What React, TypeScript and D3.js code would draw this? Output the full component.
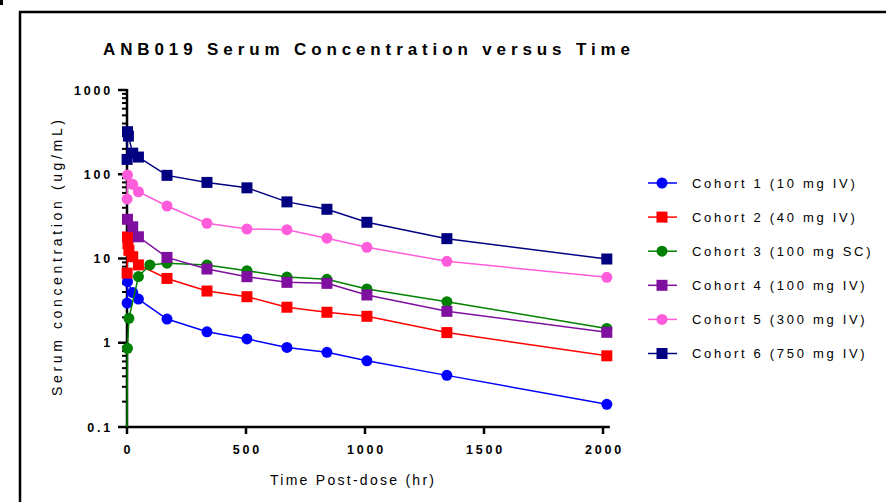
import React from "react";
import * as d3 from "d3";

const cohortNames = [
  "Cohort 1 (10 mg IV)",
  "Cohort 2 (40 mg IV)",
  "Cohort 3 (100 mg SC)",
  "Cohort 4 (100 mg IV)",
  "Cohort 5 (300 mg IV)",
  "Cohort 6 (750 mg IV)",
];
const cohortColors = ["#0000FF", "#FF0000", "#008000", "#7F0F9F", "#FF5CDB", "#000080"];
const cohortShapes = ["circle", "square", "circle", "square", "circle", "square"];

const c1Times = [0.5, 2, 24, 48, 168, 336, 504, 672, 840, 1008, 1344, 2016];
const c1Values = [2.96, 5.3, 3.95, 3.3, 1.91, 1.35, 1.11, 0.88, 0.77, 0.61, 0.41, 0.186];

const c2Times = [0.5, 2, 4, 8, 24, 48, 168, 336, 504, 672, 840, 1008, 1344, 2016];
const c2Values = [6.7, 18, 15, 12.5, 10.5, 8.4, 5.8, 4.11, 3.52, 2.64, 2.3, 2.06, 1.32, 0.7];

const c3Times = [0, 2, 8, 48, 96, 168, 336, 504, 672, 840, 1008, 1344, 2016];
const c3Values = [0.1, 0.86, 1.95, 6.1, 8.4, 8.8, 8.37, 7.17, 6.02, 5.66, 4.35, 3.07, 1.48];

const c4Times = [2, 24, 48, 168, 336, 504, 672, 840, 1008, 1344, 2016];
const c4Values = [29.2, 23.8, 18.1, 10.3, 7.5, 6.08, 5.21, 5.07, 3.69, 2.36, 1.33];

const c5Times = [0.5, 2, 24, 48, 168, 336, 504, 672, 840, 1008, 1344, 2016];
const c5Values = [50.8, 98, 76, 62, 42, 26.2, 22.4, 22.0, 17.4, 13.6, 9.27, 5.98];

const c6Times = [0.5, 2, 6, 24, 48, 168, 336, 504, 672, 840, 1008, 1344, 2016];
const c6Values = [150, 320, 284, 178, 160, 97, 80, 69, 47, 38.4, 26.9, 17.2, 9.86];

const xTicks = [0, 500, 1000, 1500, 2000];
const yMajorTicks = [0.1, 1, 10, 100, 1000];
const yTickLabels = ["0.1", "1", "10", "100", "1000"];

const titleText = "ANB019 Serum Concentration versus Time";
const xTitle = "Time Post-dose (hr)";
const yTitle = "Serum concentration (ug/mL)";

const allTimes = [c1Times, c2Times, c3Times, c4Times, c5Times, c6Times];
const allValues = [c1Values, c2Values, c3Values, c4Values, c5Values, c6Values];

const FONT = "'Liberation Sans', Arial, Helvetica, sans-serif";

export default function App() {
  const x = d3.scaleLinear().domain([0, 2000]).range([127, 603]);
  const y = d3.scaleLog().domain([0.1, 1000]).range([427, 90]).clamp(true);

  const series = cohortNames.map((name, i) => ({
    name,
    color: cohortColors[i],
    shape: cohortShapes[i],
    points: allTimes[i].map((t, j) => ({ t, v: allValues[i][j] })),
  }));

  const line = d3
    .line<{ t: number; v: number }>()
    .x((d) => x(d.t))
    .y((d) => y(d.v));

  const minorTicks: number[] = [];
  [0.1, 1, 10, 100].forEach((d) => {
    for (let k = 2; k <= 9; k++) minorTicks.push(d * k);
  });

  const marker = (shape: string, cx: number, cy: number, color: string, key: any) =>
    shape === "circle" ? (
      <circle key={key} cx={cx} cy={cy} r={5.5} fill={color} />
    ) : (
      <rect key={key} x={cx - 5.5} y={cy - 5.5} width={11} height={11} fill={color} />
    );

  const axisX0 = x(0);
  const legendY = (i: number) => 183 + i * 34.1;

  return (
    <svg
      width={886}
      height={502}
      style={{ position: "absolute", left: 0, top: 0, background: "#fff" }}
      fontFamily={FONT}
    >
      <rect x={0} y={0} width={886} height={502} fill="#fff" />
      <rect x={0} y={0} width={3} height={5} fill="#000" />
      <path d="M20,502 V12 H886" fill="none" stroke="#000" strokeWidth={2.5} />

      <text
        x={366.5}
        y={55}
        textAnchor="middle"
        fontWeight="bold"
        fontSize={17}
        textLength={527}
        lengthAdjust="spacing"
        fill="#000"
      >
        {titleText}
      </text>

      {/* Y axis */}
      <line x1={axisX0} x2={axisX0} y1={y(1000) - 1} y2={y(0.1) + 1} stroke="#000" strokeWidth={2.5} />
      {minorTicks.map((v, i) => (
        <line key={"mn" + i} x1={axisX0 - 5} x2={axisX0} y1={y(v)} y2={y(v)} stroke="#000" strokeWidth={2} />
      ))}
      {yMajorTicks.map((v, i) => (
        <g key={"mj" + i}>
          <line x1={axisX0 - 9} x2={axisX0} y1={y(v)} y2={y(v)} stroke="#000" strokeWidth={2.5} />
          <text
            x={113}
            y={y(v)}
            dy="0.36em"
            textAnchor="end"
            fontWeight="bold"
            fontSize={12.5}
            letterSpacing={2.8}
            fill="#000"
          >
            {yTickLabels[i]}
          </text>
        </g>
      ))}

      {/* X axis */}
      <line x1={axisX0 - 1} x2={x(2016) + 3} y1={y(0.1)} y2={y(0.1)} stroke="#000" strokeWidth={2.5} />
      {xTicks.map((t, i) => (
        <g key={"xt" + i}>
          <line x1={x(t)} x2={x(t)} y1={y(0.1)} y2={y(0.1) + 7} stroke="#000" strokeWidth={2.5} />
          <text
            x={x(t) + 1.5}
            y={454}
            textAnchor="middle"
            fontWeight="bold"
            fontSize={12.5}
            letterSpacing={2.8}
            fill="#000"
          >
            {String(t)}
          </text>
        </g>
      ))}

      <text
        x={352}
        y={485}
        textAnchor="middle"
        fontSize={14}
        textLength={164}
        lengthAdjust="spacing"
        fill="#000"
      >
        {xTitle}
      </text>
      <text
        transform="translate(62,258) rotate(-90)"
        textAnchor="middle"
        fontSize={14}
        textLength={276}
        lengthAdjust="spacing"
        fill="#000"
      >
        {yTitle}
      </text>

      {/* Series */}
      {series.map((s, i) => (
        <g key={"s" + i}>
          <path d={line(s.points) || ""} fill="none" stroke={s.color} strokeWidth={1.5} />
          {s.points
            .filter((p) => p.v > 0.1)
            .map((p, j) => marker(s.shape, x(p.t), y(p.v), s.color, j))}
        </g>
      ))}

      {/* Legend */}
      {series.map((s, i) => (
        <g key={"lg" + i}>
          <line x1={648} x2={677} y1={legendY(i)} y2={legendY(i)} stroke={s.color} strokeWidth={1.5} />
          {marker(s.shape, 662, legendY(i), s.color, "m")}
          <text x={692} y={legendY(i) + 4.7} fontSize={13} letterSpacing={2.7} fill="#000">
            {s.name}
          </text>
        </g>
      ))}
    </svg>
  );
}
